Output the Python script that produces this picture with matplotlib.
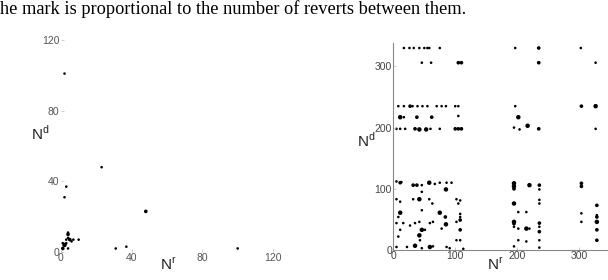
import matplotlib
matplotlib.use("Agg")
import matplotlib.pyplot as plt
import numpy as np

CAPTION = "he mark is proportional to the number of reverts between them."

# left panel: (N^r, N^d, weight)
left_nr = [2, 23, 3, 2, 48, 4, 4, 4, 3, 5, 7, 1, 3, 6, 2, 4, 10, 1, 31, 37, 100]
left_nd = [101, 48, 37, 31, 23, 10, 11, 8, 7, 7, 7, 5, 5, 6, 4, 2, 7, 2, 2, 3, 2]
left_w = [1, 1, 1, 1, 2, 2, 1, 1, 1, 2, 1, 1, 1, 1, 3, 1, 1, 2, 1, 1, 1]

# right panel
right_nr = [17, 26, 33, 42, 50, 55, 58, 75, 197, 235, 303,
            46, 61, 105, 110, 235, 327,
            8, 17, 27, 31, 39, 47, 55, 70, 78, 85, 100, 105, 197, 304, 327,
            11, 17, 38, 62, 105, 202,
            5, 11, 19, 35, 42, 53, 60, 75, 100, 105, 110, 195, 204, 217, 235, 327,
            5, 11, 13, 32, 38, 46, 58, 67, 75, 86, 94, 85, 46,
            5, 11, 32, 42, 58, 63, 102, 108, 105,
            46, 11, 8, 75, 84, 108, 108, 108,
            5, 16, 27, 35, 42, 59, 64, 85, 78, 102, 108,
            11, 46, 42, 51, 8, 43, 108, 102,
            22, 35, 46, 59, 64, 86, 91, 113, 5,
            195, 195, 195, 220, 236, 236, 195, 236, 236, 202, 215,
            195, 195, 215, 220, 236, 236, 236, 202, 195, 202, 215, 236, 195, 236,
            304, 304, 304, 304, 329, 329, 329, 329, 329, 329]
right_nd = [330, 330, 330, 330, 330, 330, 330, 330, 330, 330, 330,
            306, 306, 306, 306, 306, 306,
            235, 235, 235, 235, 235, 235, 235, 235, 235, 235, 235, 235, 235, 235, 235,
            217, 217, 217, 217, 219, 217,
            198, 198, 198, 198, 197, 197, 198, 198, 198, 198, 198, 200, 197, 203, 198, 198,
            112, 110, 111, 106, 106, 106, 110, 108, 110, 110, 110, 99, 95,
            83, 79, 83, 83, 83, 76, 83, 81, 76,
            65, 61, 54, 61, 54, 59, 54, 49,
            44, 44, 40, 44, 46, 44, 46, 42, 35, 46, 33,
            33, 33, 24, 33, 22, 16, 16, 16,
            5, 7, 3, 5, 6, 5, 3, 2, 5,
            109, 104, 100, 106, 106, 99, 76, 82, 76, 62, 62,
            46, 43, 35, 35, 44, 38, 30, 35, 38, 16, 14, 16, 6, 4,
            109, 104, 60, 46, 73, 57, 54, 46, 33, 16]
right_w = [1, 1, 1, 1, 1, 1, 1, 1, 1, 2, 1,
           1, 1, 2, 2, 2, 1,
           1, 1, 2, 1, 1, 1, 1, 1, 1, 1, 1, 1, 1, 2, 3,
           3, 1, 2, 2, 1, 3,
           1, 1, 1, 2, 3, 3, 1, 1, 2, 2, 2, 1, 1, 3, 2, 1,
           1, 2, 1, 2, 2, 1, 3, 1, 1, 1, 1, 3, 1,
           1, 1, 1, 3, 1, 1, 1, 1, 1,
           1, 3, 1, 3, 2, 1, 1, 2,
           1, 1, 1, 1, 1, 1, 1, 3, 1, 1, 2,
           1, 3, 3, 1, 1, 1, 1, 1,
           1, 3, 1, 3, 1, 1, 1, 1, 1,
           3, 3, 2, 3, 2, 1, 3, 1, 1, 1, 1,
           3, 2, 3, 1, 2, 1, 2, 1, 1, 1, 1, 1, 1, 1,
           2, 2, 1, 1, 2, 1, 2, 3, 2, 2]

plt.rcParams['font.family'] = ['Liberation Sans', 'DejaVu Sans']
plt.rcParams['mathtext.fontset'] = 'custom'
plt.rcParams['mathtext.rm'] = 'Liberation Sans'

fig = plt.figure(figsize=(6.08, 2.8), dpi=100)
fig.text(0.0, 0.998, CAPTION, ha="left", va="top", fontsize=13.2,
         family="Liberation Serif", color="black")


def style_labels(ax, ylab_xy, xlab_xy):
    ax.set_ylabel(r"N$^{\mathrm{d}}$", rotation=0, fontsize=11, color="#222222",
                  ha="center", va="center")
    ax.yaxis.set_label_coords(*ylab_xy)
    ax.set_xlabel(r"N$^{\mathrm{r}}$", fontsize=11, color="#222222")
    ax.xaxis.set_label_coords(*xlab_xy)


# left panel
ax1 = fig.add_axes([0.1003, 0.1, 0.3487, 0.757])
ax1.scatter(left_nr, left_nd, s=np.array(left_w) * 3.5, c="black", linewidths=0)
ax1.set_xlim(0, 120)
ax1.set_ylim(0, 120)
ax1.set_xticks([0, 40, 80, 120])
ax1.set_yticks([0, 40, 80, 120])
for s in ax1.spines.values():
    s.set_visible(False)
ax1.tick_params(length=2, width=0.5, color="#bbbbbb", labelcolor="#555555",
                labelsize=7.5, pad=1, direction="in")
style_labels(ax1, (-0.1, 0.56), (0.505, -0.02))

# right panel
ax2 = fig.add_axes([0.647, 0.107, 0.353, 0.739])
ax2.scatter(right_nr, right_nd, s=np.array(right_w) * 3.5, c="black", linewidths=0)
ax2.set_xlim(0, 347)
ax2.set_ylim(0, 338)
ax2.set_xticks([0, 100, 200, 300])
ax2.set_yticks([0, 100, 200, 300])
ax2.spines["top"].set_visible(False)
ax2.spines["right"].set_visible(False)
for side in ["left", "bottom"]:
    ax2.spines[side].set_color("#888888")
    ax2.spines[side].set_linewidth(0.8)
ax2.tick_params(length=2, width=0.5, color="#bbbbbb", labelcolor="#444444",
                labelsize=7.5, pad=1, direction="in")
style_labels(ax2, (-0.125, 0.53), (0.474, -0.03))

plt.savefig("out.png", dpi=100)
